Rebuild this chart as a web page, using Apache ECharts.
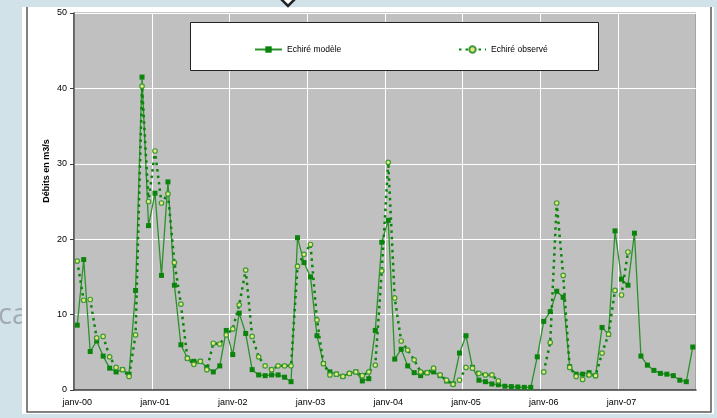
<!DOCTYPE html>
<html>
<head>
<meta charset="utf-8">
<script src="https://cdn.jsdelivr.net/npm/echarts@6/dist/echarts.min.js"></script>
<style>
  html, body { margin: 0; padding: 0; background: #d2e2e9; }
  #chart { width: 717px; height: 418px; }
</style>
</head>
<body>
<div id="chart"></div>
<script>
// Monthly flows at Echiré, January 2000 – December 2007 (m3/s)
const years = ['00', '01', '02', '03', '04', '05', '06', '07'];
const months = ['janv', 'févr', 'mars', 'avr', 'mai', 'juin', 'juil', 'août', 'sept', 'oct', 'nov', 'déc'];
const yTicks = [0, 10, 20, 30, 40, 50];

const modele = [
  8.6, 17.3, 5.1, 6.5, 4.5, 2.9, 2.4, 2.7, 2.1, 13.2, 41.5, 21.8,
  26.1, 15.2, 27.6, 13.9, 6.0, 4.2, 3.8, 3.8, 3.0, 2.4, 3.2, 7.9,
  4.7, 10.2, 7.5, 2.7, 2.0, 1.9, 2.0, 2.0, 1.7, 1.1, 20.2, 16.9,
  15.0, 7.2, 3.5, 2.4, 2.1, 1.8, 2.2, 2.4, 1.2, 1.5, 7.9, 19.6,
  22.5, 4.1, 5.4, 3.2, 2.3, 1.9, 2.3, 2.4, 1.9, 1.2, 0.8, 4.9,
  7.2, 3.0, 1.3, 1.1, 0.8, 0.7, 0.5, 0.45, 0.4, 0.35, 0.35, 4.4,
  9.1, 10.4, 13.1, 12.3, 3.1, 2.1, 2.1, 2.3, 1.9, 8.3, 7.4, 21.1,
  14.7, 13.9, 20.8, 4.5, 3.3, 2.6, 2.2, 2.1, 1.9, 1.3, 1.1, 5.7
];

const observe = [
  17.1, 11.9, 12.0, 6.9, 7.1, 4.4, 3.0, 2.7, 1.8, 7.3, 40.3, 25.0,
  31.7, 24.8, 26.0, 16.9, 11.4, 4.2, 3.4, 3.8, 2.7, 6.2, 6.1, 7.3,
  8.1, 11.3, 15.9, 7.1, 4.4, 3.2, 2.7, 3.2, 3.2, 3.2, 16.4, 18.0,
  19.3, 9.3, 3.5, 2.0, 2.1, 1.8, 2.2, 2.4, 1.9, 2.4, 3.3, 15.8,
  30.2, 12.2, 6.5, 5.3, 4.0, 2.4, 2.3, 2.9, 2.0, 1.3, 0.75, 1.3,
  3.0, 2.9, 2.2, 2.0, 2.0, 1.2, null, null, null, null, null, null,
  2.4, 6.3, 24.8, 15.2, 3.0, 1.8, 1.4, 2.0, 1.9, 4.9, 7.4, 13.2,
  12.6, 18.3, null, null, null, null, null, null, null, null, null, null
];

const categories = years.flatMap(y => months.map(m => m + '-' + y));

const FONT = '"Liberation Sans", Arial, sans-serif';
const GREEN = '#0a840a';

const chart = echarts.init(document.getElementById('chart'), null, { renderer: 'canvas' });

chart.setOption({
  animation: false,
  backgroundColor: '#d2e2e9',
  textStyle: { fontFamily: FONT },
  graphic: [
    // slide text peeking from the left edge
    { type: 'text', z: -12, left: -2, top: 301,
      style: { text: 'ca', fontSize: 29, fontFamily: '"Open Sans", sans-serif', fill: '#a2acb0' } },
    // white chart frame
    { type: 'rect', z: -11, shape: { x: 22, y: 7, width: 692, height: 407 },
      style: { fill: '#ffffff' } },
    { type: 'polyline', z: -10, shape: { points: [[27, 7], [27, 412], [711, 412], [711, 7]] },
      style: { fill: null, stroke: '#5a5a5a', lineWidth: 1.5 } },
    // slide decoration at the top
    { type: 'polygon', z: -10, shape: { points: [[288, -8], [295, -1], [288, 6], [281, -1]] },
      style: { fill: '#ffffff', stroke: '#222222', lineWidth: 2.5 } },
    // legend box
    { type: 'rect', z: 2, shape: { x: 190.5, y: 22.5, width: 408, height: 48 },
      style: { fill: '#ffffff', stroke: '#222222', lineWidth: 1 } },
    // axis title
    { type: 'text', z: 2, x: 47, y: 171, rotation: Math.PI / 2,
      style: { text: 'Débits en m3/s', fontSize: 9, fontWeight: 'bold', fontFamily: FONT,
               fill: '#000', align: 'center', verticalAlign: 'middle' } }
  ],
  legend: [
    { data: ['Echiré modèle'], left: 249, top: 40, z: 10, itemWidth: 27, itemHeight: 8,
      textStyle: { fontSize: 8.5, color: '#000', fontFamily: FONT } },
    { data: ['Echiré observé'], left: 453, top: 40, z: 10, itemWidth: 27, itemHeight: 8,
      textStyle: { fontSize: 8.5, color: '#000', fontFamily: FONT } }
  ],
  grid: {
    left: 74, top: 13, right: 21, bottom: 28,
    show: true, backgroundColor: '#c0c0c0', borderColor: '#8a8a8a', borderWidth: 1
  },
  xAxis: {
    type: 'category',
    data: categories,
    boundaryGap: true,
    axisLine: { lineStyle: { color: '#404040', width: 1.5 } },
    axisTick: { show: false, interval: 11 },
    axisLabel: { interval: 11, fontSize: 9, color: '#000', margin: 8, fontFamily: FONT },
    splitLine: { show: true, interval: 11, lineStyle: { color: '#ffffff', width: 1 } }
  },
  yAxis: {
    type: 'value',
    min: yTicks[0], max: yTicks[yTicks.length - 1], interval: 10,
    axisLine: { show: true, lineStyle: { color: '#404040', width: 1.5 } },
    axisTick: { show: true, length: 4, lineStyle: { color: '#404040' } },
    axisLabel: { fontSize: 9, color: '#000', margin: 7, fontFamily: FONT },
    splitLine: { show: true, lineStyle: { color: '#ffffff', width: 1 } }
  },
  series: [
    {
      name: 'Echiré modèle',
      type: 'line',
      data: modele,
      z: 3,
      symbol: 'rect',
      symbolSize: 5,
      showAllSymbol: true,
      lineStyle: { color: '#2a922a', width: 1.3 },
      itemStyle: { color: GREEN }
    },
    {
      name: 'Echiré observé',
      type: 'line',
      data: observe,
      z: 4,
      connectNulls: false,
      symbol: 'circle',
      symbolSize: 4.5,
      showAllSymbol: true,
      lineStyle: { color: GREEN, width: 2.5, type: [2.5, 4] },
      itemStyle: { color: '#e6e878', borderColor: '#3c9a3c', borderWidth: 1.2 }
    }
  ]
});
</script>
</body>
</html>
